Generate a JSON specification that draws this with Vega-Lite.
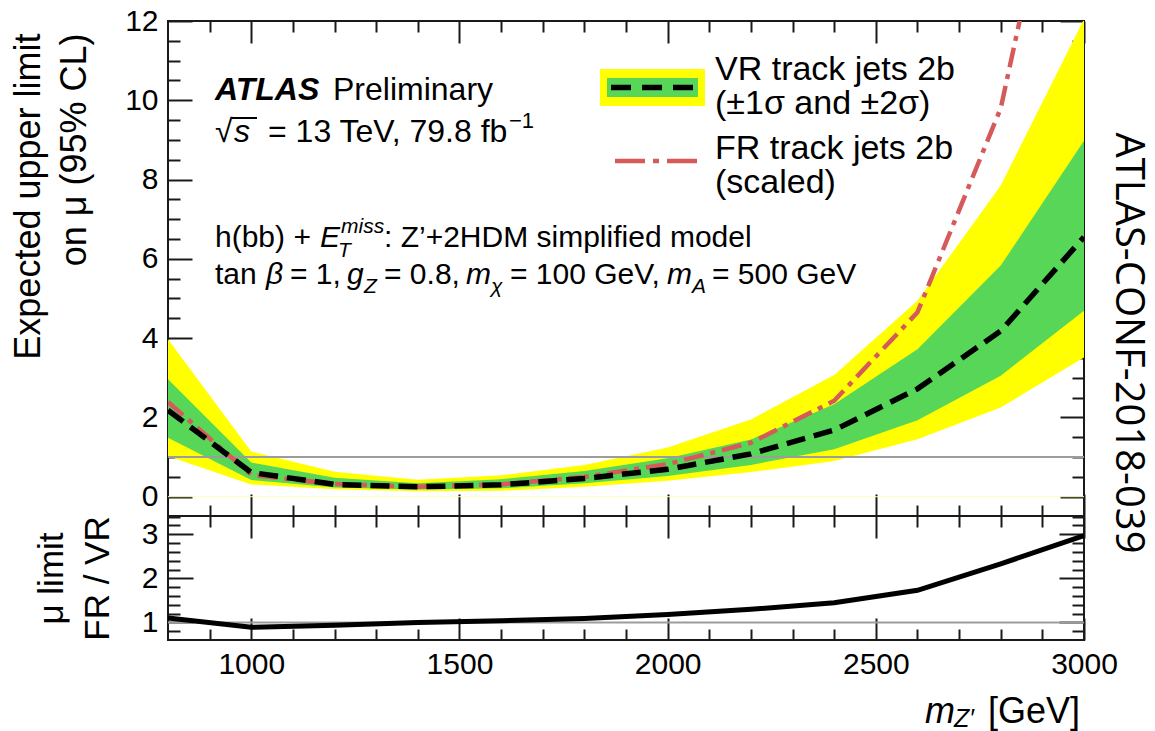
{
  "$schema": "https://vega.github.io/schema/vega-lite/v6.json",
  "background": "white",
  "padding": {"left": 8, "top": 5, "right": 2, "bottom": 0},
  "config": {
    "view": {"stroke": "#1a1a1a", "strokeWidth": 2},
    "axis": {"domain": false, "grid": false, "tickColor": "#1a1a1a", "tickWidth": 2, "labelFont": "Liberation Sans", "labelFontSize": 30, "labelColor": "#000", "labelFlush": false, "labelOverlap": false, "titleFont": "Liberation Sans", "titleFontWeight": "normal", "titleColor": "#000", "titleFontSize": 35},
    "text": {"font": "Liberation Sans", "color": "#000"}
  },
  "datasets": {
    "lim": [
      {"mass": 800, "exp": 2.18, "s1lo": 1.49, "s1hi": 2.96, "s2lo": 1.02, "s2hi": 3.97, "fr": 2.39, "ratio": 1.10},
      {"mass": 1000, "exp": 0.61, "s1lo": 0.42, "s1hi": 0.86, "s2lo": 0.31, "s2hi": 1.14, "fr": 0.55, "ratio": 0.89},
      {"mass": 1200, "exp": 0.31, "s1lo": 0.23, "s1hi": 0.48, "s2lo": 0.19, "s2hi": 0.63, "fr": 0.32, "ratio": 0.94},
      {"mass": 1400, "exp": 0.25, "s1lo": 0.18, "s1hi": 0.34, "s2lo": 0.14, "s2hi": 0.43, "fr": 0.25, "ratio": 1.00},
      {"mass": 1600, "exp": 0.30, "s1lo": 0.21, "s1hi": 0.44, "s2lo": 0.15, "s2hi": 0.54, "fr": 0.31, "ratio": 1.04},
      {"mass": 1800, "exp": 0.46, "s1lo": 0.34, "s1hi": 0.65, "s2lo": 0.25, "s2hi": 0.80, "fr": 0.50, "ratio": 1.09},
      {"mass": 2000, "exp": 0.69, "s1lo": 0.52, "s1hi": 0.97, "s2lo": 0.40, "s2hi": 1.24, "fr": 0.82, "ratio": 1.18},
      {"mass": 2200, "exp": 1.08, "s1lo": 0.80, "s1hi": 1.44, "s2lo": 0.62, "s2hi": 1.95, "fr": 1.36, "ratio": 1.30},
      {"mass": 2400, "exp": 1.68, "s1lo": 1.20, "s1hi": 2.33, "s2lo": 0.90, "s2hi": 3.07, "fr": 2.42, "ratio": 1.45},
      {"mass": 2600, "exp": 2.72, "s1lo": 1.93, "s1hi": 3.72, "s2lo": 1.45, "s2hi": 4.94, "fr": 4.65, "ratio": 1.73},
      {"mass": 2800, "exp": 4.18, "s1lo": 3.05, "s1hi": 5.83, "s2lo": 2.25, "s2hi": 7.85, "fr": 9.8, "ratio": 2.33},
      {"mass": 3000, "exp": 6.55, "s1lo": 4.69, "s1hi": 8.98, "s2lo": 3.51, "s2hi": 12.05, "fr": 19.5, "ratio": 2.97}
    ],
    "tN32": [
      {"x": 1196.3, "y": 10.007, "t": "Preliminary"},
      {"x": 912.9, "y": 8.948, "t": "√"},
      {"x": 1040.2, "y": 8.948, "t": "= 13 TeV, 79.8 fb"}
    ],
    "tI32": [
      {"x": 958.5, "y": 8.948, "t": "s"}
    ],
    "ovl": [{"x": 953.7, "y": 9.553}, {"x": 1013.8, "y": 9.553}],
    "tN": [
      {"x": 912.9, "y": 6.299, "t": "h(bb) + "},
      {"x": 1318.8, "y": 6.299, "t": ": Z’+2HDM simplified model"},
      {"x": 912.9, "y": 5.365, "t": "tan "},
      {"x": 1093.0, "y": 5.365, "t": "= 1, "},
      {"x": 1318.8, "y": 5.365, "t": "= 0.8, "},
      {"x": 1621.4, "y": 5.365, "t": "= 100 GeV, "},
      {"x": 2106.5, "y": 5.365, "t": "= 500 GeV"}
    ],
    "tI": [
      {"x": 1165.1, "y": 6.299, "t": "E"},
      {"x": 1035.4, "y": 5.365, "t": "β"},
      {"x": 1229.9, "y": 5.365, "t": "g"},
      {"x": 1515.7, "y": 5.365, "t": "m"},
      {"x": 1998.5, "y": 5.365, "t": "m"}
    ],
    "tBI": [
      {"x": 912.9, "y": 10.007, "t": "ATLAS"}
    ],
    "tS": [
      {"x": 1619.0, "y": 9.301, "t": "−1"}
    ],
    "tSI": [
      {"x": 1215.5, "y": 6.652, "t": "miss"},
      {"x": 1208.3, "y": 6.047, "t": "T"},
      {"x": 1270.7, "y": 5.138, "t": "Z"},
      {"x": 1575.8, "y": 5.138, "t": "χ"},
      {"x": 2058.5, "y": 5.138, "t": "A"}
    ],
    "tLeg": [
      {"x": 2113.8, "y": 10.512, "t": "VR track jets 2b"},
      {"x": 2113.8, "y": 9.654, "t": "(±1σ and ±2σ)"},
      {"x": 2113.8, "y": 8.519, "t": "FR track jets 2b"},
      {"x": 2113.8, "y": 7.661, "t": "(scaled)"}
    ],
    "lgY": [{"x": 1837.6, "x2": 2089.7, "y": 10.789, "y2": 9.856}],
    "lgG": [{"x": 1854.4, "x2": 2072.9, "y": 10.562, "y2": 10.083}],
    "lgK": [{"x": 1864.0, "y": 10.322}, {"x": 2070.5, "y": 10.322}],
    "lgR": [{"x": 1873.6, "y": 8.468}, {"x": 2070.5, "y": 8.468}],
    "conf": [{"x": 3105.7, "y": 3.877, "t": "ATLAS-CONF-2018-039"}],
    "xtI": [{"x": 2618.1, "y": -1.279, "t": "m"}],
    "xtSI": [{"x": 2687.8, "y": -1.37, "t": "Z′"}],
    "xtN": [{"x": 2990.4, "y": -1.279, "t": "[GeV]"}]
  },
  "vconcat": [
    {
      "width": 916,
      "height": 495,
      "resolve": {"axis": {"x": "independent", "y": "independent"}},
      "layer": [
        {"data": {"name": "lim"}, "mark": {"type": "area", "color": "#ffff00", "opacity": 1, "clip": true},
         "encoding": {
           "x": {"field": "mass", "type": "quantitative", "scale": {"domain": [800, 3000], "nice": false, "zero": false}, "axis": null},
           "y": {"field": "s2hi", "type": "quantitative", "scale": {"domain": [-0.487, 12], "nice": false, "zero": false}, "axis": null},
           "y2": {"field": "s2lo"}}},
        {"data": {"name": "lim"}, "mark": {"type": "area", "color": "#57d657", "opacity": 1, "clip": true},
         "encoding": {
           "x": {"field": "mass", "type": "quantitative", "scale": {"domain": [800, 3000], "nice": false, "zero": false}, "axis": null},
           "y": {"field": "s1hi", "type": "quantitative", "scale": {"domain": [-0.487, 12], "nice": false, "zero": false}, "axis": null},
           "y2": {"field": "s1lo"}}},
        {"data": {"values": [{}]}, "mark": {"type": "rule", "color": "#ffffb8", "strokeWidth": 1},
         "encoding": {"y": {"datum": 0, "type": "quantitative", "scale": {"domain": [-0.487, 12], "nice": false, "zero": false}, "axis": null}}},
        {"data": {"values": [{}]}, "mark": {"type": "rule", "color": "#9c9c9c", "strokeWidth": 2},
         "encoding": {"y": {"datum": 1, "type": "quantitative", "scale": {"domain": [-0.487, 12], "nice": false, "zero": false}, "axis": null}}},
        {"data": {"name": "lim"}, "mark": {"type": "line", "color": "#d65a5a", "strokeWidth": 4.5, "strokeDash": [20, 7, 5, 7], "strokeCap": "butt", "clip": true},
         "encoding": {
           "x": {"field": "mass", "type": "quantitative", "scale": {"domain": [800, 3000], "nice": false, "zero": false}, "axis": null},
           "y": {"field": "fr", "type": "quantitative", "scale": {"domain": [-0.487, 12], "nice": false, "zero": false}, "axis": null}}},
        {"data": {"name": "lim"}, "mark": {"type": "line", "color": "#000000", "strokeWidth": 5.5, "strokeDash": [19, 9], "strokeCap": "butt", "clip": true},
         "encoding": {
           "x": {"field": "mass", "type": "quantitative", "scale": {"domain": [800, 3000], "nice": false, "zero": false}, "axis": null},
           "y": {"field": "exp", "type": "quantitative", "scale": {"domain": [-0.487, 12], "nice": false, "zero": false}, "axis": null}}},
        {"data": {"name": "lim"}, "mark": {"type": "point", "opacity": 0},
         "encoding": {
           "x": {"field": "mass", "type": "quantitative", "scale": {"domain": [800, 3000], "nice": false, "zero": false},
                 "axis": {"orient": "bottom", "values": [1000, 1500, 2000, 2500, 3000], "tickSize": -22, "labels": false, "title": null}},
           "y": {"field": "exp", "type": "quantitative", "scale": {"domain": [-0.487, 12], "nice": false, "zero": false},
                 "axis": {"orient": "left", "values": [0, 2, 4, 6, 8, 10, 12], "format": "d", "tickSize": -24, "labels": true, "labelPadding": 34,
                          "title": ["Expected upper limit", "on μ (95% CL)"], "titleFontSize": 36, "titleAngle": -90, "titleAlign": "right", "titleBaseline": "top",
                          "titleX": -157, "titleY": 12, "titleLineHeight": 46}}}},
        {"data": {"name": "lim"}, "mark": {"type": "point", "opacity": 0},
         "encoding": {
           "x": {"field": "mass", "type": "quantitative", "scale": {"domain": [800, 3000], "nice": false, "zero": false},
                 "axis": {"orient": "bottom", "values": [900, 1100, 1200, 1300, 1400, 1600, 1700, 1800, 1900, 2100, 2200, 2300, 2400, 2600, 2700, 2800, 2900], "tickSize": -11, "labels": false, "title": null}},
           "y": {"field": "exp", "type": "quantitative", "scale": {"domain": [-0.487, 12], "nice": false, "zero": false},
                 "axis": {"orient": "left", "values": [0.5, 1, 1.5, 2.5, 3, 3.5, 4.5, 5, 5.5, 6.5, 7, 7.5, 8.5, 9, 9.5, 10.5, 11, 11.5], "tickSize": -12, "labels": false, "title": null}}}},
        {"data": {"name": "lim"}, "mark": {"type": "point", "opacity": 0},
         "encoding": {
           "x": {"field": "mass", "type": "quantitative", "scale": {"domain": [800, 3000], "nice": false, "zero": false},
                 "axis": {"orient": "top", "values": [1000, 1500, 2000, 2500, 3000], "tickSize": -22, "labels": false, "title": null}},
           "y": {"field": "exp", "type": "quantitative", "scale": {"domain": [-0.487, 12], "nice": false, "zero": false},
                 "axis": {"orient": "right", "values": [0, 2, 4, 6, 8, 10, 12], "tickSize": -24, "labels": false, "title": null}}}},
        {"data": {"name": "lim"}, "mark": {"type": "point", "opacity": 0},
         "encoding": {
           "x": {"field": "mass", "type": "quantitative", "scale": {"domain": [800, 3000], "nice": false, "zero": false},
                 "axis": {"orient": "top", "values": [900, 1100, 1200, 1300, 1400, 1600, 1700, 1800, 1900, 2100, 2200, 2300, 2400, 2600, 2700, 2800, 2900], "tickSize": -11, "labels": false, "title": null}},
           "y": {"field": "exp", "type": "quantitative", "scale": {"domain": [-0.487, 12], "nice": false, "zero": false},
                 "axis": {"orient": "right", "values": [0.5, 1, 1.5, 2.5, 3, 3.5, 4.5, 5, 5.5, 6.5, 7, 7.5, 8.5, 9, 9.5, 10.5, 11, 11.5], "tickSize": -12, "labels": false, "title": null}}}},
        {"data": {"name": "lgY"}, "mark": {"type": "rect", "color": "#ffff00"},
         "encoding": {
           "x": {"field": "x", "type": "quantitative", "scale": {"domain": [800, 3000], "nice": false, "zero": false}, "axis": null},
           "x2": {"field": "x2"},
           "y": {"field": "y", "type": "quantitative", "scale": {"domain": [-0.487, 12], "nice": false, "zero": false}, "axis": null},
           "y2": {"field": "y2"}}},
        {"data": {"name": "lgG"}, "mark": {"type": "rect", "color": "#57d657"},
         "encoding": {
           "x": {"field": "x", "type": "quantitative", "scale": {"domain": [800, 3000], "nice": false, "zero": false}, "axis": null},
           "x2": {"field": "x2"},
           "y": {"field": "y", "type": "quantitative", "scale": {"domain": [-0.487, 12], "nice": false, "zero": false}, "axis": null},
           "y2": {"field": "y2"}}},
        {"data": {"name": "lgK"}, "mark": {"type": "line", "color": "#000000", "strokeWidth": 5.5, "strokeDash": [20, 11], "strokeCap": "butt"},
         "encoding": {
           "x": {"field": "x", "type": "quantitative", "scale": {"domain": [800, 3000], "nice": false, "zero": false}, "axis": null},
           "y": {"field": "y", "type": "quantitative", "scale": {"domain": [-0.487, 12], "nice": false, "zero": false}, "axis": null}}},
        {"data": {"name": "lgR"}, "mark": {"type": "line", "color": "#d65a5a", "strokeWidth": 4.5, "strokeDash": [30, 8, 6, 8], "strokeCap": "butt"},
         "encoding": {
           "x": {"field": "x", "type": "quantitative", "scale": {"domain": [800, 3000], "nice": false, "zero": false}, "axis": null},
           "y": {"field": "y", "type": "quantitative", "scale": {"domain": [-0.487, 12], "nice": false, "zero": false}, "axis": null}}},
        {"data": {"name": "ovl"}, "mark": {"type": "line", "color": "#000000", "strokeWidth": 2},
         "encoding": {
           "x": {"field": "x", "type": "quantitative", "scale": {"domain": [800, 3000], "nice": false, "zero": false}, "axis": null},
           "y": {"field": "y", "type": "quantitative", "scale": {"domain": [-0.487, 12], "nice": false, "zero": false}, "axis": null}}},
        {"data": {"name": "tN"}, "mark": {"type": "text", "align": "left", "baseline": "alphabetic", "fontSize": 30},
         "encoding": {
           "x": {"field": "x", "type": "quantitative", "scale": {"domain": [800, 3000], "nice": false, "zero": false}, "axis": null},
           "y": {"field": "y", "type": "quantitative", "scale": {"domain": [-0.487, 12], "nice": false, "zero": false}, "axis": null},
           "text": {"field": "t"}}},
        {"data": {"name": "tN32"}, "mark": {"type": "text", "align": "left", "baseline": "alphabetic", "fontSize": 32},
         "encoding": {
           "x": {"field": "x", "type": "quantitative", "scale": {"domain": [800, 3000], "nice": false, "zero": false}, "axis": null},
           "y": {"field": "y", "type": "quantitative", "scale": {"domain": [-0.487, 12], "nice": false, "zero": false}, "axis": null},
           "text": {"field": "t"}}},
        {"data": {"name": "tI32"}, "mark": {"type": "text", "align": "left", "baseline": "alphabetic", "fontSize": 32, "fontStyle": "italic"},
         "encoding": {
           "x": {"field": "x", "type": "quantitative", "scale": {"domain": [800, 3000], "nice": false, "zero": false}, "axis": null},
           "y": {"field": "y", "type": "quantitative", "scale": {"domain": [-0.487, 12], "nice": false, "zero": false}, "axis": null},
           "text": {"field": "t"}}},
        {"data": {"name": "tI"}, "mark": {"type": "text", "align": "left", "baseline": "alphabetic", "fontSize": 30, "fontStyle": "italic"},
         "encoding": {
           "x": {"field": "x", "type": "quantitative", "scale": {"domain": [800, 3000], "nice": false, "zero": false}, "axis": null},
           "y": {"field": "y", "type": "quantitative", "scale": {"domain": [-0.487, 12], "nice": false, "zero": false}, "axis": null},
           "text": {"field": "t"}}},
        {"data": {"name": "tBI"}, "mark": {"type": "text", "align": "left", "baseline": "alphabetic", "fontSize": 32, "fontStyle": "italic", "fontWeight": "bold"},
         "encoding": {
           "x": {"field": "x", "type": "quantitative", "scale": {"domain": [800, 3000], "nice": false, "zero": false}, "axis": null},
           "y": {"field": "y", "type": "quantitative", "scale": {"domain": [-0.487, 12], "nice": false, "zero": false}, "axis": null},
           "text": {"field": "t"}}},
        {"data": {"name": "tS"}, "mark": {"type": "text", "align": "left", "baseline": "alphabetic", "fontSize": 22},
         "encoding": {
           "x": {"field": "x", "type": "quantitative", "scale": {"domain": [800, 3000], "nice": false, "zero": false}, "axis": null},
           "y": {"field": "y", "type": "quantitative", "scale": {"domain": [-0.487, 12], "nice": false, "zero": false}, "axis": null},
           "text": {"field": "t"}}},
        {"data": {"name": "tSI"}, "mark": {"type": "text", "align": "left", "baseline": "alphabetic", "fontSize": 21, "fontStyle": "italic"},
         "encoding": {
           "x": {"field": "x", "type": "quantitative", "scale": {"domain": [800, 3000], "nice": false, "zero": false}, "axis": null},
           "y": {"field": "y", "type": "quantitative", "scale": {"domain": [-0.487, 12], "nice": false, "zero": false}, "axis": null},
           "text": {"field": "t"}}},
        {"data": {"name": "tLeg"}, "mark": {"type": "text", "align": "left", "baseline": "alphabetic", "fontSize": 34},
         "encoding": {
           "x": {"field": "x", "type": "quantitative", "scale": {"domain": [800, 3000], "nice": false, "zero": false}, "axis": null},
           "y": {"field": "y", "type": "quantitative", "scale": {"domain": [-0.487, 12], "nice": false, "zero": false}, "axis": null},
           "text": {"field": "t"}}},
        {"data": {"name": "conf"}, "mark": {"type": "text", "align": "center", "baseline": "middle", "angle": 90, "fontSize": 40, "font": "Open Sans"},
         "encoding": {
           "x": {"field": "x", "type": "quantitative", "scale": {"domain": [800, 3000], "nice": false, "zero": false}, "axis": null},
           "y": {"field": "y", "type": "quantitative", "scale": {"domain": [-0.487, 12], "nice": false, "zero": false}, "axis": null},
           "text": {"field": "t"}}}
      ]
    },
    {
      "width": 916,
      "height": 124,
      "resolve": {"axis": {"x": "independent", "y": "independent"}},
      "layer": [
        {"data": {"values": [{}]}, "mark": {"type": "rule", "color": "#9c9c9c", "strokeWidth": 2},
         "encoding": {"y": {"datum": 1, "type": "quantitative", "scale": {"domain": [0.603, 3.415], "nice": false, "zero": false}, "axis": null}}},
        {"data": {"name": "lim"}, "mark": {"type": "line", "color": "#000000", "strokeWidth": 5, "clip": true},
         "encoding": {
           "x": {"field": "mass", "type": "quantitative", "scale": {"domain": [800, 3000], "nice": false, "zero": false}, "axis": null},
           "y": {"field": "ratio", "type": "quantitative", "scale": {"domain": [0.603, 3.415], "nice": false, "zero": false}, "axis": null}}},
        {"data": {"name": "lim"}, "mark": {"type": "point", "opacity": 0},
         "encoding": {
           "x": {"field": "mass", "type": "quantitative", "scale": {"domain": [800, 3000], "nice": false, "zero": false},
                 "axis": {"orient": "bottom", "values": [1000, 1500, 2000, 2500, 3000], "format": "d", "tickSize": -22, "labels": true, "labelPadding": 31, "title": null}},
           "y": {"field": "ratio", "type": "quantitative", "scale": {"domain": [0.603, 3.415], "nice": false, "zero": false},
                 "axis": {"orient": "left", "values": [1, 2, 3], "format": "d", "tickSize": -25, "labels": true, "labelPadding": 35,
                          "title": ["μ limit", "FR / VR"], "titleAngle": -90, "titleAlign": "center", "titleBaseline": "top",
                          "titleX": -134, "titleY": 62, "titleLineHeight": 46}}}},
        {"data": {"name": "lim"}, "mark": {"type": "point", "opacity": 0},
         "encoding": {
           "x": {"field": "mass", "type": "quantitative", "scale": {"domain": [800, 3000], "nice": false, "zero": false},
                 "axis": {"orient": "bottom", "values": [900, 1100, 1200, 1300, 1400, 1600, 1700, 1800, 1900, 2100, 2200, 2300, 2400, 2600, 2700, 2800, 2900], "tickSize": -11, "labels": false, "title": null}},
           "y": {"field": "ratio", "type": "quantitative", "scale": {"domain": [0.603, 3.415], "nice": false, "zero": false},
                 "axis": {"orient": "left", "values": [0.8, 1.2, 1.4, 1.6, 1.8, 2.2, 2.4, 2.6, 2.8, 3.2, 3.4], "tickSize": -12, "labels": false, "title": null}}}},
        {"data": {"name": "lim"}, "mark": {"type": "point", "opacity": 0},
         "encoding": {
           "x": {"field": "mass", "type": "quantitative", "scale": {"domain": [800, 3000], "nice": false, "zero": false},
                 "axis": {"orient": "top", "values": [1000, 1500, 2000, 2500, 3000], "tickSize": -22, "labels": false, "title": null}},
           "y": {"field": "ratio", "type": "quantitative", "scale": {"domain": [0.603, 3.415], "nice": false, "zero": false},
                 "axis": {"orient": "right", "values": [1, 2, 3], "tickSize": -25, "labels": false, "title": null}}}},
        {"data": {"name": "lim"}, "mark": {"type": "point", "opacity": 0},
         "encoding": {
           "x": {"field": "mass", "type": "quantitative", "scale": {"domain": [800, 3000], "nice": false, "zero": false},
                 "axis": {"orient": "top", "values": [900, 1100, 1200, 1300, 1400, 1600, 1700, 1800, 1900, 2100, 2200, 2300, 2400, 2600, 2700, 2800, 2900], "tickSize": -11, "labels": false, "title": null}},
           "y": {"field": "ratio", "type": "quantitative", "scale": {"domain": [0.603, 3.415], "nice": false, "zero": false},
                 "axis": {"orient": "right", "values": [0.8, 1.2, 1.4, 1.6, 1.8, 2.2, 2.4, 2.6, 2.8, 3.2, 3.4], "tickSize": -12, "labels": false, "title": null}}}},
        {"data": {"name": "xtI"}, "mark": {"type": "text", "align": "left", "baseline": "alphabetic", "fontSize": 36, "fontStyle": "italic"},
         "encoding": {
           "x": {"field": "x", "type": "quantitative", "scale": {"domain": [800, 3000], "nice": false, "zero": false}, "axis": null},
           "y": {"field": "y", "type": "quantitative", "scale": {"domain": [0.603, 3.415], "nice": false, "zero": false}, "axis": null},
           "text": {"field": "t"}}},
        {"data": {"name": "xtSI"}, "mark": {"type": "text", "align": "left", "baseline": "alphabetic", "fontSize": 25, "fontStyle": "italic"},
         "encoding": {
           "x": {"field": "x", "type": "quantitative", "scale": {"domain": [800, 3000], "nice": false, "zero": false}, "axis": null},
           "y": {"field": "y", "type": "quantitative", "scale": {"domain": [0.603, 3.415], "nice": false, "zero": false}, "axis": null},
           "text": {"field": "t"}}},
        {"data": {"name": "xtN"}, "mark": {"type": "text", "align": "right", "baseline": "alphabetic", "fontSize": 36},
         "encoding": {
           "x": {"field": "x", "type": "quantitative", "scale": {"domain": [800, 3000], "nice": false, "zero": false}, "axis": null},
           "y": {"field": "y", "type": "quantitative", "scale": {"domain": [0.603, 3.415], "nice": false, "zero": false}, "axis": null},
           "text": {"field": "t"}}}
      ]
    }
  ],
  "spacing": 0,
  "bounds": "flush"
}
